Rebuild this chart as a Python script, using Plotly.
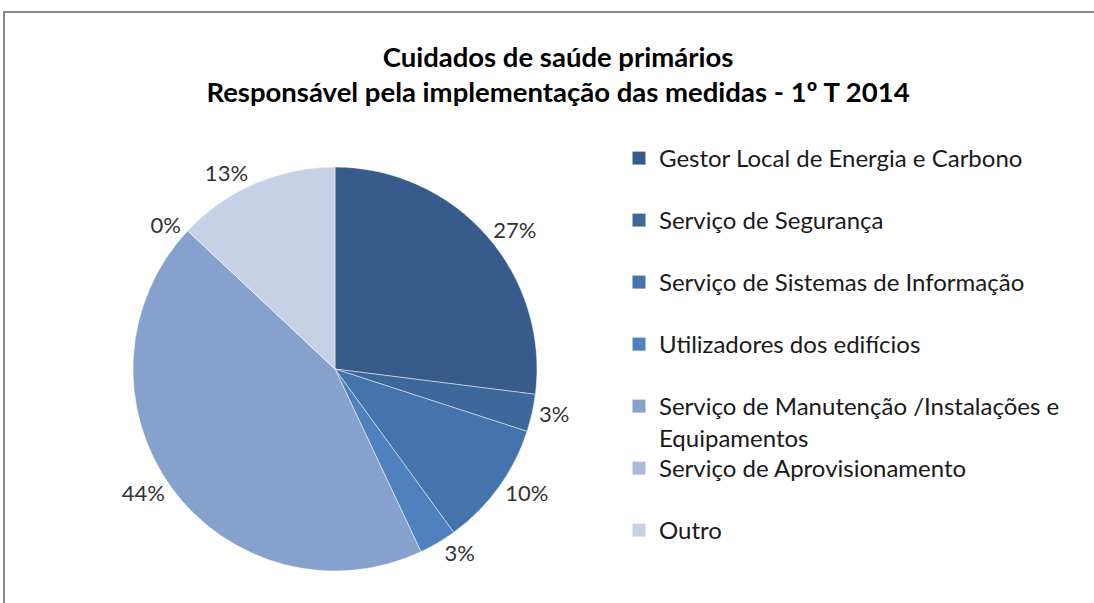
import plotly.graph_objects as go

categories = [
    "Gestor Local de Energia e Carbono",
    "Serviço de Segurança",
    "Serviço de Sistemas de Informação",
    "Utilizadores dos edifícios",
    "Serviço de Manutenção /Instalações e Equipamentos",
    "Serviço de Aprovisionamento",
    "Outro",
]
legend_labels = [
    "Gestor Local de Energia e Carbono",
    "Serviço de Segurança",
    "Serviço de Sistemas de Informação",
    "Utilizadores dos edifícios",
    "Serviço de Manutenção /Instalações e<br>Equipamentos",
    "Serviço de Aprovisionamento",
    "Outro",
]
values = [27, 3, 10, 3, 44, 0, 13]
colors = ["#375C8B", "#3E689C", "#4573AC", "#4E81BD", "#86A1CE", "#A9BADB", "#C6D1E6"]

W, H = 1094, 603
FONT = "Lato"
CX, CY, R = 335, 369, 202  # pie centre / radius in pixels

fig = go.Figure()
fig.add_trace(go.Pie(
    labels=categories,
    values=values,
    sort=False,
    direction="clockwise",
    rotation=0,
    marker=dict(colors=colors, line=dict(color="rgba(255,255,255,0.6)", width=0.8)),
    textinfo="percent",
    texttemplate="%{percent:.0%}",
    textposition="outside",
    outsidetextfont=dict(family=FONT, size=22, color="#333333"),
    showlegend=False,
    domain=dict(x=[(CX - R) / W, (CX + R) / W], y=[1 - (CY + R) / H, 1 - (CY - R) / H]),
    hoverinfo="label+percent",
))

# legend entries (one legend per entry to reproduce Excel spacing)
for i, (lab, col) in enumerate(zip(legend_labels, colors)):
    key = "legend" if i == 0 else f"legend{i + 1}"
    fig.add_trace(go.Scatter(
        x=[None], y=[None], mode="markers",
        marker=dict(symbol="square", size=13, color=col),
        name=lab, legend=key, showlegend=True,
    ))
    fig.layout[key] = dict(
        x=619 / W, xanchor="left",
        y=1 - (136 + 62 * i) / H, yanchor="top",
        font=dict(family=FONT, size=24, color="#1a1a1a"),
        valign="top", bgcolor="rgba(0,0,0,0)",
    )

fig.update_layout(
    width=W, height=H,
    margin=dict(l=0, r=0, t=0, b=0),
    paper_bgcolor="white", plot_bgcolor="white",
    xaxis=dict(visible=False), yaxis=dict(visible=False),
    title=dict(
        text="<b>Cuidados de saúde primários</b><br><b>Responsável pela implementação das medidas - 1º T 2014</b>",
        x=558 / W, xanchor="center", y=1 - 66.5 / H, yanchor="middle",
        font=dict(family=FONT, size=27.5, color="#000000"),
    ),
    shapes=[dict(type="rect", xref="paper", yref="paper",
                 x0=4 / W, x1=1.05, y0=-0.05, y1=1 - 12 / H,
                 line=dict(color="#878787", width=2), fillcolor="rgba(0,0,0,0)")],
)

fig.write_html("out.html", config={"displayModeBar": False},
               post_script="document.body.style.margin='0';")
